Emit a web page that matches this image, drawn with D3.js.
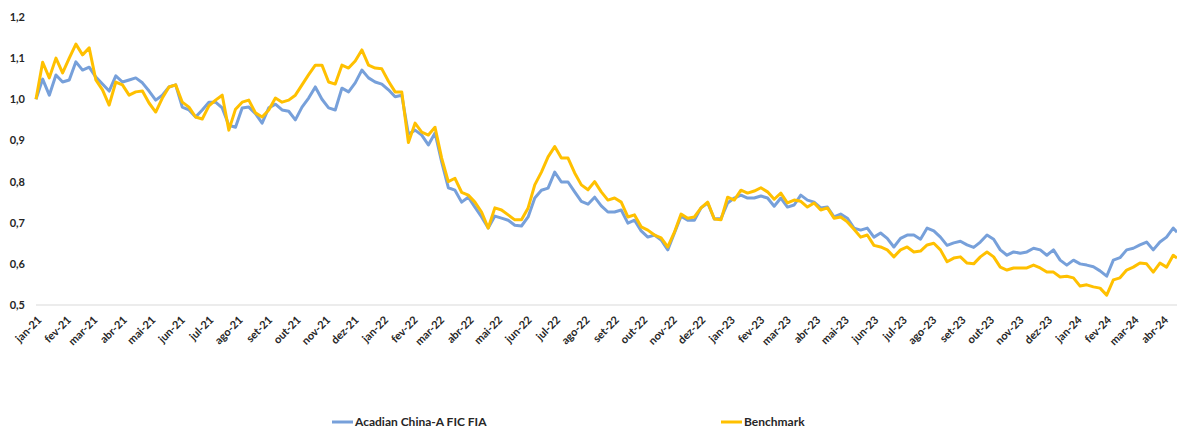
<!DOCTYPE html>
<html>
<head>
<meta charset="utf-8">
<script src="https://cdn.jsdelivr.net/npm/d3@7"></script>
<style>
  body { margin: 0; background: #fff; }
  svg { display: block; font-family: Lato, "Liberation Sans", sans-serif; }
</style>
</head>
<body>
<svg id="chart" width="1177" height="430"></svg>
<script>
// weekly closes, base 1.0 at jan-21
var dates = [
  '2021-01-01','2021-01-08','2021-01-15','2021-01-22','2021-01-29','2021-02-05','2021-02-12','2021-02-19','2021-02-26',
  '2021-03-05','2021-03-12','2021-03-19','2021-03-26','2021-04-02','2021-04-09','2021-04-16','2021-04-23','2021-04-30',
  '2021-05-07','2021-05-14','2021-05-21','2021-05-28','2021-06-04','2021-06-11','2021-06-18','2021-06-25',
  '2021-07-02','2021-07-09','2021-07-16','2021-07-23','2021-07-30','2021-08-06','2021-08-13','2021-08-20','2021-08-27',
  '2021-09-03','2021-09-10','2021-09-17','2021-09-24','2021-10-01','2021-10-08','2021-10-15','2021-10-22','2021-10-29',
  '2021-11-05','2021-11-12','2021-11-19','2021-11-26','2021-12-03','2021-12-10','2021-12-17','2021-12-24','2021-12-31',
  '2022-01-07','2022-01-14','2022-01-21','2022-01-28','2022-02-04','2022-02-11','2022-02-18','2022-02-25',
  '2022-03-04','2022-03-11','2022-03-18','2022-03-25','2022-04-01','2022-04-08','2022-04-15','2022-04-22','2022-04-29',
  '2022-05-06','2022-05-13','2022-05-20','2022-05-27','2022-06-03','2022-06-10','2022-06-17','2022-06-24',
  '2022-07-01','2022-07-08','2022-07-15','2022-07-22','2022-07-29','2022-08-05','2022-08-12','2022-08-19','2022-08-26',
  '2022-09-02','2022-09-09','2022-09-16','2022-09-23','2022-09-30','2022-10-07','2022-10-14','2022-10-21','2022-10-28',
  '2022-11-04','2022-11-11','2022-11-18','2022-11-25','2022-12-02','2022-12-09','2022-12-16','2022-12-23','2022-12-30',
  '2023-01-06','2023-01-13','2023-01-20','2023-01-27','2023-02-03','2023-02-10','2023-02-17','2023-02-24',
  '2023-03-03','2023-03-10','2023-03-17','2023-03-24','2023-03-31','2023-04-07','2023-04-14','2023-04-21','2023-04-28',
  '2023-05-05','2023-05-12','2023-05-19','2023-05-26','2023-06-02','2023-06-09','2023-06-16','2023-06-23','2023-06-30',
  '2023-07-07','2023-07-14','2023-07-21','2023-07-28','2023-08-04','2023-08-11','2023-08-18','2023-08-25',
  '2023-09-01','2023-09-08','2023-09-15','2023-09-22','2023-09-29','2023-10-06','2023-10-13','2023-10-20','2023-10-27',
  '2023-11-03','2023-11-10','2023-11-17','2023-11-24','2023-12-01','2023-12-08','2023-12-15','2023-12-22','2023-12-29',
  '2024-01-05','2024-01-12','2024-01-19','2024-01-26','2024-02-02','2024-02-09','2024-02-16','2024-02-23',
  '2024-03-01','2024-03-08','2024-03-15','2024-03-22','2024-03-29','2024-04-05','2024-04-12','2024-04-16'
];

var acadian = [
  1.000,1.049,1.010,1.059,1.042,1.047,1.091,1.071,1.078,1.054,1.037,1.020,1.057,1.042,1.047,1.052,1.040,1.020,
  0.998,1.010,1.030,1.035,0.981,0.974,0.957,0.974,0.993,0.993,0.979,0.937,0.932,0.979,0.981,0.965,0.942,0.979,
  0.988,0.974,0.971,0.950,0.981,1.003,1.030,1.000,0.979,0.974,1.027,1.018,1.040,1.071,1.052,1.042,1.037,
  1.023,1.006,1.010,0.915,0.925,0.913,0.889,0.918,0.848,0.785,0.779,0.750,0.762,0.738,0.714,0.687,0.716,0.711,
  0.706,0.694,0.692,0.714,0.760,0.779,0.784,0.823,0.799,0.799,0.775,0.752,0.745,0.762,0.741,0.726,0.726,0.731,
  0.699,0.706,0.680,0.665,0.670,0.658,0.634,0.675,0.716,0.706,0.706,0.736,0.748,0.709,0.710,0.748,
  0.760,0.767,0.760,0.760,0.765,0.760,0.740,0.760,0.738,0.743,0.767,0.755,0.750,0.736,0.738,0.714,0.721,0.711,
  0.687,0.682,0.687,0.665,0.675,0.662,0.641,0.662,0.670,0.670,0.660,0.687,0.680,0.665,0.645,0.651,0.655,0.646,
  0.640,0.653,0.670,0.660,0.634,0.621,0.629,0.626,0.629,0.638,0.634,0.621,0.634,0.609,0.597,0.609,
  0.600,0.597,0.593,0.583,0.570,0.609,0.615,0.634,0.638,0.646,0.653,0.634,0.653,0.665,0.687,0.677
];

var benchmark = [
  1.000,1.090,1.052,1.100,1.064,1.100,1.134,1.108,1.125,1.047,1.023,0.986,1.042,1.035,1.010,1.018,1.020,0.991,
  0.969,1.003,1.030,1.035,0.993,0.981,0.957,0.952,0.984,0.998,1.010,0.925,0.976,0.993,0.998,0.967,0.957,0.974,
  1.003,0.993,0.998,1.010,1.035,1.060,1.083,1.083,1.042,1.037,1.083,1.076,1.093,1.120,1.083,1.076,1.074,
  1.044,1.018,1.018,0.895,0.942,0.920,0.913,0.932,0.857,0.800,0.808,0.774,0.767,0.750,0.726,0.687,0.736,0.731,
  0.719,0.707,0.707,0.736,0.792,0.823,0.860,0.885,0.857,0.857,0.821,0.792,0.780,0.800,0.775,0.755,0.760,0.750,
  0.714,0.719,0.690,0.682,0.670,0.663,0.641,0.677,0.721,0.711,0.714,0.736,0.750,0.709,0.707,0.762,
  0.755,0.779,0.772,0.777,0.785,0.775,0.757,0.772,0.748,0.755,0.752,0.738,0.748,0.731,0.736,0.711,0.714,0.702,
  0.684,0.665,0.670,0.645,0.641,0.634,0.617,0.634,0.641,0.629,0.631,0.646,0.650,0.634,0.605,0.614,0.617,0.602,
  0.600,0.617,0.629,0.617,0.592,0.585,0.590,0.590,0.590,0.597,0.590,0.580,0.580,0.568,0.570,0.566,
  0.546,0.549,0.544,0.541,0.524,0.561,0.566,0.585,0.592,0.602,0.600,0.580,0.602,0.592,0.621,0.614
];

var seriesNames = ['Acadian China-A FIC FIA', 'Benchmark'];
var seriesColors = ['#77A0DA', '#FFC000'];
var yTicks = [0.5, 0.6, 0.7, 0.8, 0.9, 1.0, 1.1, 1.2];
var monthNames = ['jan', 'fev', 'mar', 'abr', 'mai', 'jun', 'jul', 'ago', 'set', 'out', 'nov', 'dez'];

var parse = d3.timeParse('%Y-%m-%d');
var days = dates.map(parse);

var svg = d3.select('#chart');
var plot = { left: 36, right: 1177, top: 17, bottom: 305 };

var x = d3.scaleTime()
    .domain([days[0], days[days.length - 1]])
    .range([plot.left, plot.right]);
var y = d3.scaleLinear()
    .domain([0.5, 1.2])
    .range([plot.bottom, plot.top]);

// baseline
svg.append('line')
    .attr('x1', plot.left).attr('x2', plot.right)
    .attr('y1', y(0.5)).attr('y2', y(0.5))
    .attr('stroke', '#d9d9d9').attr('stroke-width', 1);

// y axis labels
var yAxis = svg.append('g')
    .attr('transform', `translate(${plot.left - 11},0)`)
    .call(d3.axisLeft(y).tickValues(yTicks).tickSize(0)
        .tickFormat((d) => d3.format('.1f')(d).replace('.', ',')));
yAxis.select('.domain').remove();
yAxis.selectAll('text')
    .attr('x', 0)
    .attr('fill', '#262626')
    .style('font-size', '11px')
    .style('font-weight', 'bold')
    .style('font-family', 'Lato, sans-serif');

// x axis labels
var months = d3.timeMonth.range(new Date(2021, 0, 1), new Date(2024, 4, 1));
var xAxis = svg.append('g')
    .attr('transform', `translate(0,${plot.bottom})`)
    .call(d3.axisBottom(x).tickValues(months).tickSize(0)
        .tickFormat((d) => monthNames[d.getMonth()] + '-' + d3.timeFormat('%y')(d)));
xAxis.select('.domain').remove();
xAxis.selectAll('text')
    .attr('fill', '#262626')
    .style('font-size', '11px')
    .style('font-weight', 'bold')
    .style('font-family', 'Lato, sans-serif')
    .attr('text-anchor', 'end')
    .attr('dy', '0.35em')
    .attr('y', 0)
    .attr('transform', 'translate(3,13) rotate(-45)');

// lines
var line = d3.line()
    .x((d, i) => x(days[i]))
    .y((d) => y(d));

[acadian, benchmark].forEach((vals, i) => {
    svg.append('path')
        .datum(vals)
        .attr('fill', 'none')
        .attr('stroke', seriesColors[i])
        .attr('stroke-width', 3)
        .attr('stroke-linejoin', 'round')
        .attr('d', line);
});

// legend
var legendX = [332, 721];
seriesNames.forEach((name, i) => {
    var g = svg.append('g').attr('transform', `translate(${legendX[i]},422)`);
    g.append('line')
        .attr('x1', 0).attr('x2', 21)
        .attr('stroke', seriesColors[i]).attr('stroke-width', 3);
    g.append('text')
        .attr('x', 23).attr('dy', '0.35em')
        .attr('fill', '#262626')
        .style('font-size', '12px')
        .style('font-weight', 'bold')
        .text(name);
});
</script>
</body>
</html>
